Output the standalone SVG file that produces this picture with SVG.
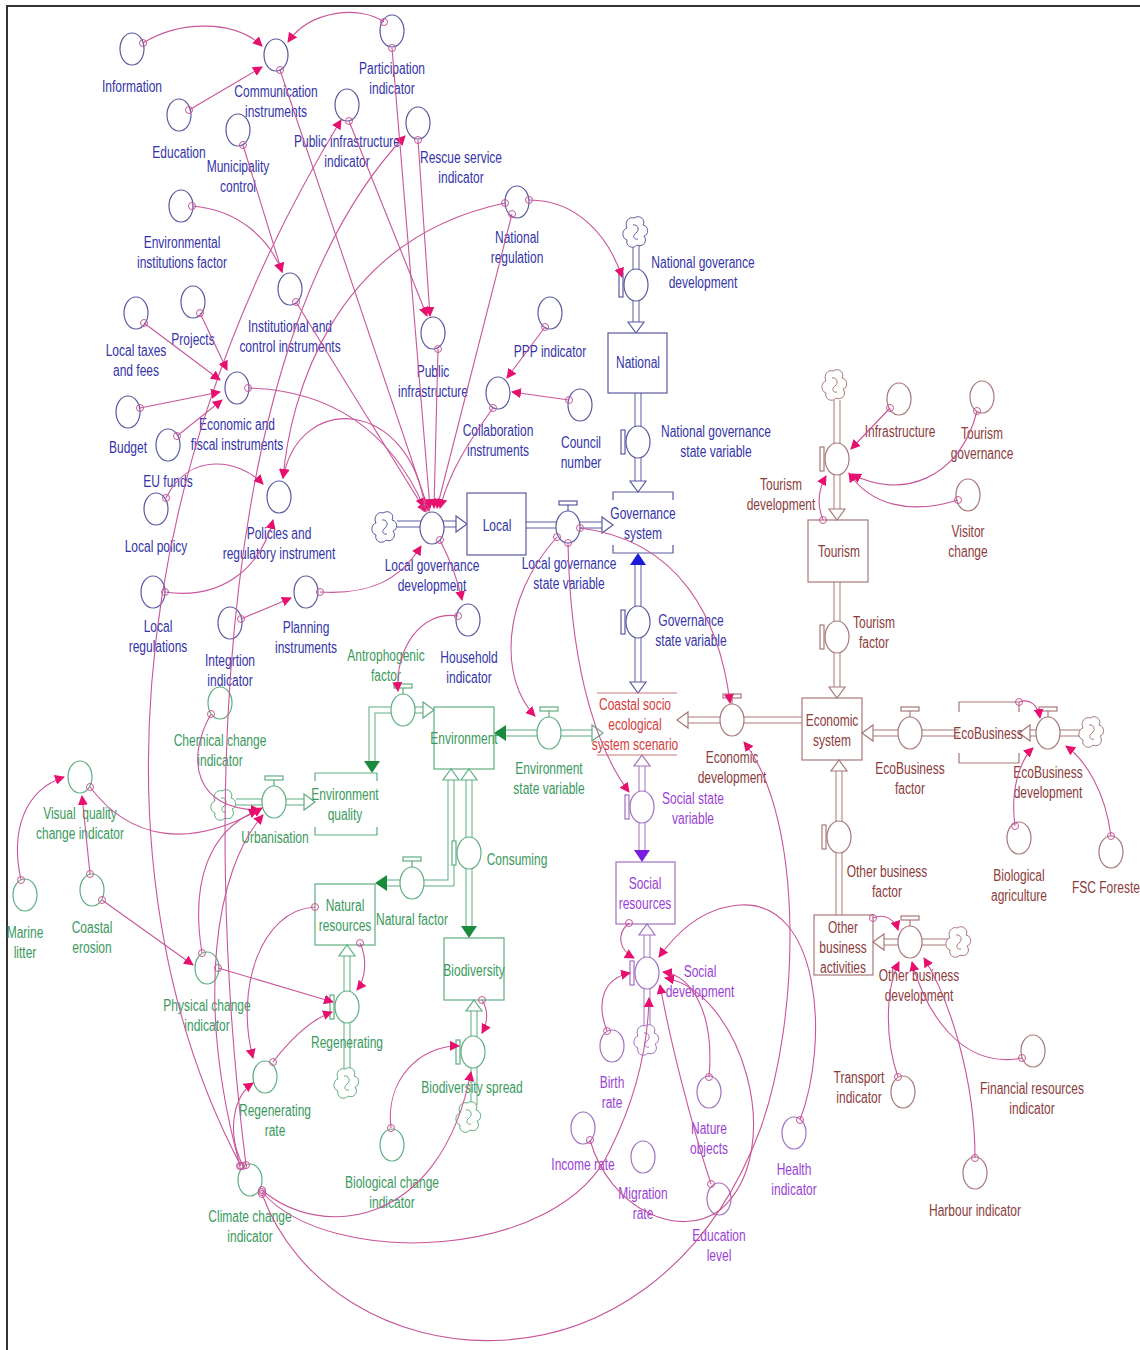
<svg xmlns="http://www.w3.org/2000/svg" width="1140" height="1350" viewBox="0 0 1140 1350">
<style>
.t{font-family:"Liberation Sans",Arial,sans-serif;font-size:16px;text-anchor:middle;dominant-baseline:central}
.tg{fill:#3434a8}.te{fill:#3a9a5c}.tc{fill:#8c3c3c}.ts{fill:#9b3fd4}.tr{fill:#d23c3c}
.ng{fill:#fff;stroke:#5a5aa0;stroke-width:1.2}
.ne{fill:#fff;stroke:#5fae80;stroke-width:1.2}
.nc{fill:#fff;stroke:#a87878;stroke-width:1.2}
.ns{fill:#fff;stroke:#a070c0;stroke-width:1.2}
.bg{fill:none;stroke:#5a5aa0;stroke-width:1.2}
.be{fill:none;stroke:#5fae80;stroke-width:1.2}
.bc{fill:none;stroke:#a87878;stroke-width:1.2}
.bs{fill:none;stroke:#a070c0;stroke-width:1.2}
.pg{fill:none;stroke:#5a5aa0;stroke-width:7}
.pe{fill:none;stroke:#5fae80;stroke-width:7}
.pc{fill:none;stroke:#a87878;stroke-width:7}
.ps{fill:none;stroke:#a070c0;stroke-width:7}
.pw{fill:none;stroke:#fff;stroke-width:5}
.c{fill:none;stroke:#c8569a;stroke-width:1.1;marker-start:url(#r);marker-end:url(#a)}
</style>
<defs>
<marker id="a" viewBox="0 0 10 10" refX="9" refY="5" markerWidth="10" markerHeight="10" markerUnits="userSpaceOnUse" orient="auto"><path d="M0,0 L10,5 L0,10 z" fill="#e8106e"/></marker>
<marker id="r" viewBox="-5 -5 10 10" refX="0" refY="0" markerWidth="10" markerHeight="10" markerUnits="userSpaceOnUse"><circle r="3.5" fill="none" stroke="#c8569a" stroke-width="1"/></marker>
<g id="cloud"><path d="M-2,-14 C4,-18 10,-12 7,-7 C13,-6 13,3 8,4 C12,9 7,16 1,13 C-3,18 -11,14 -9,8 C-15,6 -14,-3 -9,-4 C-12,-10 -7,-16 -2,-14 Z" fill="#fff"/><path d="M-3,-7 C2,-8 4,-2 0,1 C-4,4 -2,8 2,7" fill="none"/></g>
</defs>
<rect width="1140" height="1350" fill="#fff"/>
<path d="M7,1350 V6 H1140" fill="none" stroke="#333" stroke-width="2"/>

<g id="flows">
<path class="pg" d="M636,246 V322"/><path class="pw" d="M636,246 V322"/><polygon points="628,322 644,322 636,333" class="ng"/>
<path class="pg" d="M638,393 V482"/><path class="pw" d="M638,393 V482"/><polygon points="630,481 646,481 638,492" class="ng"/>
<path class="pg" d="M397,524 H456"/><path class="pw" d="M397,524 H456"/><polygon points="456,516 456,532 467,524" class="ng"/>
<path class="pg" d="M526,525 H602"/><path class="pw" d="M526,525 H602"/><polygon points="602,517 602,533 613,525" class="ng"/>
<path class="pg" d="M638,565 V682"/><path class="pw" d="M638,565 V682"/><polygon points="630,565 646,565 638,553" fill="#1c1cd8"/><polygon points="630,682 646,682 638,693" class="ng"/>
<path class="ps" d="M642,766 V850"/><path class="pw" d="M642,766 V850"/><polygon points="634,766 650,766 642,755" class="ns"/><polygon points="634,850 650,850 642,862" fill="#7a1ce0"/>
<path class="ps" d="M647,935 V1028"/><path class="pw" d="M647,935 V1028"/><polygon points="639,935 655,935 647,924" class="ns"/>
<path class="pe" d="M423,710 H372 V761"/><path class="pw" d="M423,710 H372 V761"/><polygon points="423,702 423,718 434,710" class="ne"/><polygon points="364,761 380,761 372,773" fill="#1a8a3c"/>
<path class="pe" d="M236,802 H304"/><path class="pw" d="M236,802 H304"/><polygon points="304,794 304,810 315,802" class="ne"/>
<path class="pe" d="M506,733 H592"/><path class="pw" d="M506,733 H592"/><polygon points="506,725 506,741 494,733" fill="#1a8a3c"/><polygon points="592,725 592,741 603,733" class="ne"/>
<path class="pe" d="M469,780 V926"/><path class="pw" d="M469,780 V926"/><polygon points="461,780 477,780 469,769" class="ne"/><polygon points="461,926 477,926 469,938" fill="#1a8a3c"/>
<path class="pe" d="M451,780 V883 H387"/><path class="pw" d="M451,780 V883 H387"/><polygon points="443,780 459,780 451,769" class="ne"/><polygon points="387,875 387,891 375,883" fill="#1a8a3c"/>
<path class="pe" d="M347,956 V1070"/><path class="pw" d="M347,956 V1070"/><polygon points="339,956 355,956 347,945" class="ne"/>
<path class="pe" d="M474,1011 V1105"/><path class="pw" d="M474,1011 V1105"/><polygon points="466,1011 482,1011 474,1000" class="ne"/>
<path class="pc" d="M802,720 H688"/><path class="pw" d="M802,720 H688"/><polygon points="688,712 688,728 677,720" class="nc"/>
<path class="pc" d="M837,400 V509"/><path class="pw" d="M837,400 V509"/><polygon points="829,509 845,509 837,520" class="nc"/>
<path class="pc" d="M837,582 V687"/><path class="pw" d="M837,582 V687"/><polygon points="829,687 845,687 837,698" class="nc"/>
<path class="pc" d="M959,733 H873"/><path class="pw" d="M959,733 H873"/><polygon points="873,725 873,741 862,733" class="nc"/>
<path class="pc" d="M1080,733 H1030"/><path class="pw" d="M1080,733 H1030"/><polygon points="1030,725 1030,741 1019,733" class="nc"/>
<path class="pc" d="M839,915 V771"/><path class="pw" d="M839,915 V771"/><polygon points="831,771 847,771 839,760" class="nc"/>
<path class="pc" d="M948,942 H884"/><path class="pw" d="M948,942 H884"/><polygon points="884,934 884,950 873,942" class="nc"/>
</g>

<g id="clouds">
<use href="#cloud" x="636" y="232" stroke="#5a5aa0"/>
<use href="#cloud" x="385" y="527" stroke="#5a5aa0"/>
<use href="#cloud" x="224" y="805" stroke="#5fae80"/>
<use href="#cloud" x="347" y="1083" stroke="#5fae80"/>
<use href="#cloud" x="469" y="1117" stroke="#5fae80"/>
<use href="#cloud" x="835" y="385" stroke="#a87878"/>
<use href="#cloud" x="1092" y="732" stroke="#a87878"/>
<use href="#cloud" x="959" y="942" stroke="#a87878"/>
<use href="#cloud" x="647" y="1040" stroke="#a070c0"/>
</g>

<!-- Governance nodes -->
<g id="information"><ellipse class="ng" cx="132" cy="49" rx="12" ry="16"/><text class="t tg" transform="translate(132,86) scale(.75,1)">Information</text></g>
<g id="communication"><ellipse class="ng" cx="276" cy="55" rx="12" ry="16"/><text class="t tg" transform="translate(276,91) scale(.75,1)"><tspan x="0" y="0">Communication</tspan><tspan x="0" y="20">instruments</tspan></text></g>
<g id="participation"><ellipse class="ng" cx="392" cy="31" rx="12" ry="16"/><text class="t tg" transform="translate(392,68) scale(.75,1)"><tspan x="0" y="0">Participation</tspan><tspan x="0" y="20">indicator</tspan></text></g>
<g id="education"><ellipse class="ng" cx="179" cy="115" rx="12" ry="16"/><text class="t tg" transform="translate(179,152) scale(.75,1)">Education</text></g>
<g id="municipality"><ellipse class="ng" cx="238" cy="130" rx="12" ry="16"/><text class="t tg" transform="translate(238,166) scale(.75,1)"><tspan x="0" y="0">Municipality</tspan><tspan x="0" y="20">control</tspan></text></g>
<g id="pubinf-indicator"><ellipse class="ng" cx="347" cy="105" rx="12" ry="16"/><text class="t tg" transform="translate(347,141) scale(.75,1)"><tspan x="0" y="0">Public infrastructure</tspan><tspan x="0" y="20">indicator</tspan></text></g>
<g id="rescue"><ellipse class="ng" cx="418" cy="123" rx="12" ry="16"/><text class="t tg" transform="translate(461,157) scale(.75,1)"><tspan x="0" y="0">Rescue service</tspan><tspan x="0" y="20">indicator</tspan></text></g>
<g id="envinst"><ellipse class="ng" cx="181" cy="206" rx="12" ry="16"/><text class="t tg" transform="translate(182,242) scale(.75,1)"><tspan x="0" y="0">Environmental</tspan><tspan x="0" y="20">institutions factor</tspan></text></g>
<g id="natreg"><ellipse class="ng" cx="517" cy="202" rx="12" ry="16"/><text class="t tg" transform="translate(517,237) scale(.75,1)"><tspan x="0" y="0">National</tspan><tspan x="0" y="20">regulation</tspan></text></g>
<g id="institutional"><ellipse class="ng" cx="290" cy="289" rx="12" ry="16"/><text class="t tg" transform="translate(290,326) scale(.75,1)"><tspan x="0" y="0">Institutional and</tspan><tspan x="0" y="20">control instruments</tspan></text></g>
<g id="projects"><ellipse class="ng" cx="193" cy="302" rx="12" ry="16"/><text class="t tg" transform="translate(193,339) scale(.75,1)">Projects</text></g>
<g id="localtaxes"><ellipse class="ng" cx="136" cy="313" rx="12" ry="16"/><text class="t tg" transform="translate(136,350) scale(.75,1)"><tspan x="0" y="0">Local taxes</tspan><tspan x="0" y="20">and fees</tspan></text></g>
<g id="pubinf"><ellipse class="ng" cx="433" cy="333" rx="12" ry="16"/><text class="t tg" transform="translate(433,371) scale(.75,1)"><tspan x="0" y="0">Public</tspan><tspan x="0" y="20">infrastructure</tspan></text></g>
<g id="ppp"><ellipse class="ng" cx="550" cy="313" rx="12" ry="16"/><text class="t tg" transform="translate(550,351) scale(.75,1)">PPP indicator</text></g>
<g id="econfisc"><ellipse class="ng" cx="237" cy="388" rx="12" ry="16"/><text class="t tg" transform="translate(237,424) scale(.75,1)"><tspan x="0" y="0">Economic and</tspan><tspan x="0" y="20">fiscal instruments</tspan></text></g>
<g id="collab"><ellipse class="ng" cx="498" cy="393" rx="12" ry="16"/><text class="t tg" transform="translate(498,430) scale(.75,1)"><tspan x="0" y="0">Collaboration</tspan><tspan x="0" y="20">instruments</tspan></text></g>
<g id="council"><ellipse class="ng" cx="580" cy="405" rx="12" ry="16"/><text class="t tg" transform="translate(581,442) scale(.75,1)"><tspan x="0" y="0">Council</tspan><tspan x="0" y="20">number</tspan></text></g>
<g id="budget"><ellipse class="ng" cx="128" cy="412" rx="12" ry="16"/><text class="t tg" transform="translate(128,447) scale(.75,1)">Budget</text></g>
<g id="eufunds"><ellipse class="ng" cx="168" cy="445" rx="12" ry="16"/><text class="t tg" transform="translate(168,481) scale(.75,1)">EU funds</text></g>
<g id="policies"><ellipse class="ng" cx="279" cy="497" rx="12" ry="16"/><text class="t tg" transform="translate(279,533) scale(.75,1)"><tspan x="0" y="0">Policies and</tspan><tspan x="0" y="20">regulatory instrument</tspan></text></g>
<g id="localpolicy"><ellipse class="ng" cx="156" cy="509" rx="12" ry="16"/><text class="t tg" transform="translate(156,546) scale(.75,1)">Local policy</text></g>
<g id="localreg"><ellipse class="ng" cx="153" cy="592" rx="12" ry="16"/><text class="t tg" transform="translate(158,626) scale(.75,1)"><tspan x="0" y="0">Local</tspan><tspan x="0" y="20">regulations</tspan></text></g>
<g id="planning"><ellipse class="ng" cx="306" cy="592" rx="12" ry="16"/><text class="t tg" transform="translate(306,627) scale(.75,1)"><tspan x="0" y="0">Planning</tspan><tspan x="0" y="20">instruments</tspan></text></g>
<g id="integration"><ellipse class="ng" cx="230" cy="623" rx="12" ry="16"/><text class="t tg" transform="translate(230,660) scale(.75,1)"><tspan x="0" y="0">Integrtion</tspan><tspan x="0" y="20">indicator</tspan></text></g>
<g id="household"><ellipse class="ng" cx="468" cy="620" rx="12" ry="16"/><text class="t tg" transform="translate(469,657) scale(.75,1)"><tspan x="0" y="0">Household</tspan><tspan x="0" y="20">indicator</tspan></text></g>
<g id="ngd"><ellipse class="ng" cx="636" cy="285" rx="12" ry="16"/><rect class="ng" x="619" y="273" width="4" height="24"/><text class="t tg" transform="translate(703,262) scale(.75,1)"><tspan x="0" y="0">National goverance</tspan><tspan x="0" y="20">development</tspan></text></g>
<g id="national"><rect class="ng" x="608" y="333" width="59" height="60"/><text class="t tg" transform="translate(638,362) scale(.75,1)">National</text></g>
<g id="ngsv"><ellipse class="ng" cx="638" cy="442" rx="12" ry="16"/><rect class="ng" x="621" y="430" width="4" height="24"/><text class="t tg" transform="translate(716,431) scale(.75,1)"><tspan x="0" y="0">National governance</tspan><tspan x="0" y="20">state variable</tspan></text></g>
<g id="govsystem"><path class="bg" d="M613,500 V492 H673 V500 M613,545 V553 H673 V545"/><text class="t tg" transform="translate(643,513) scale(.75,1)"><tspan x="0" y="0">Governance</tspan><tspan x="0" y="20">system</tspan></text></g>
<g id="local"><rect class="ng" x="467" y="493" width="59" height="62"/><text class="t tg" transform="translate(497,525) scale(.75,1)">Local</text></g>
<g id="lgd"><ellipse class="ng" cx="432" cy="528" rx="12" ry="16"/><text class="t tg" transform="translate(432,565) scale(.75,1)"><tspan x="0" y="0">Local governance</tspan><tspan x="0" y="20">development</tspan></text></g>
<g id="lgsv"><ellipse class="ng" cx="568" cy="527" rx="12" ry="16"/><path class="bg" d="M568,511 V505"/><rect class="ng" x="559" y="501" width="18" height="4"/><text class="t tg" transform="translate(569,563) scale(.75,1)"><tspan x="0" y="0">Local governance</tspan><tspan x="0" y="20">state variable</tspan></text></g>
<g id="gsv"><ellipse class="ng" cx="638" cy="622" rx="12" ry="16"/><rect class="ng" x="621" y="610" width="4" height="24"/><text class="t tg" transform="translate(691,620) scale(.75,1)"><tspan x="0" y="0">Governance</tspan><tspan x="0" y="20">state variable</tspan></text></g>

<!-- Coastal -->
<g id="coastal-scenario"><path d="M597,693 H677 M597,755 H677" stroke="#c87878" stroke-width="1.2" fill="none"/><text class="t tr" transform="translate(635,704) scale(.75,1)"><tspan x="0" y="0">Coastal socio</tspan><tspan x="0" y="20">ecological</tspan><tspan x="0" y="40">system scenario</tspan></text></g>

<!-- Environment nodes -->
<g id="antro"><ellipse class="ne" cx="403" cy="710" rx="12" ry="16"/><path class="be" d="M403,694 V688"/><rect class="ne" x="394" y="684" width="18" height="4"/><text class="t te" transform="translate(386,655) scale(.75,1)"><tspan x="0" y="0">Antrophogenic</tspan><tspan x="0" y="20">factor</tspan></text></g>
<g id="chemical"><ellipse class="ne" cx="220" cy="703" rx="12" ry="16"/><text class="t te" transform="translate(220,740) scale(.75,1)"><tspan x="0" y="0">Chemical change</tspan><tspan x="0" y="20">indicator</tspan></text></g>
<g id="visual"><ellipse class="ne" cx="80" cy="777" rx="12" ry="16"/><text class="t te" transform="translate(80,813) scale(.75,1)" xml:space="preserve"><tspan x="0" y="0">Visual  quality</tspan><tspan x="0" y="20">change indicator</tspan></text></g>
<g id="urbanisation"><ellipse class="ne" cx="274" cy="802" rx="12" ry="16"/><path class="be" d="M274,786 V780"/><rect class="ne" x="265" y="776" width="18" height="4"/><text class="t te" transform="translate(275,837) scale(.75,1)">Urbanisation</text></g>
<g id="envquality"><path class="be" d="M315,781 V773 H377 V781 M315,827 V835 H377 V827"/><text class="t te" transform="translate(345,794) scale(.75,1)"><tspan x="0" y="0">Environment</tspan><tspan x="0" y="20">quality</tspan></text></g>
<g id="environment"><rect class="be" x="434" y="707" width="60" height="62"/><text class="t te" transform="translate(464,738) scale(.75,1)">Environment</text></g>
<g id="esv"><ellipse class="ne" cx="549" cy="733" rx="12" ry="16"/><path class="be" d="M549,717 V711"/><rect class="ne" x="540" y="707" width="18" height="4"/><text class="t te" transform="translate(549,768) scale(.75,1)"><tspan x="0" y="0">Environment</tspan><tspan x="0" y="20">state variable</tspan></text></g>
<g id="consuming"><ellipse class="ne" cx="469" cy="853" rx="12" ry="16"/><rect class="ne" x="452" y="841" width="4" height="24"/><text class="t te" transform="translate(517,859) scale(.75,1)">Consuming</text></g>
<g id="natfactor"><ellipse class="ne" cx="412" cy="883" rx="12" ry="16"/><path class="be" d="M412,867 V861"/><rect class="ne" x="403" y="857" width="18" height="4"/><text class="t te" transform="translate(412,919) scale(.75,1)">Natural factor</text></g>
<g id="natres"><rect class="be" x="315" y="884" width="60" height="61"/><text class="t te" transform="translate(345,905) scale(.75,1)"><tspan x="0" y="0">Natural</tspan><tspan x="0" y="20">resources</tspan></text></g>
<g id="biodiversity"><rect class="be" x="444" y="938" width="60" height="62"/><text class="t te" transform="translate(474,970) scale(.75,1)">Biodiversity</text></g>
<g id="marine"><ellipse class="ne" cx="25" cy="895" rx="12" ry="16"/><text class="t te" transform="translate(25,932) scale(.75,1)"><tspan x="0" y="0">Marine</tspan><tspan x="0" y="20">litter</tspan></text></g>
<g id="coastalerosion"><ellipse class="ne" cx="92" cy="890" rx="12" ry="16"/><text class="t te" transform="translate(92,927) scale(.75,1)"><tspan x="0" y="0">Coastal</tspan><tspan x="0" y="20">erosion</tspan></text></g>
<g id="physical"><ellipse class="ne" cx="207" cy="968" rx="12" ry="16"/><text class="t te" transform="translate(207,1005) scale(.75,1)"><tspan x="0" y="0">Physical change</tspan><tspan x="0" y="20">indicator</tspan></text></g>
<g id="regenerating"><ellipse class="ne" cx="347" cy="1007" rx="12" ry="16"/><rect class="ne" x="330" y="995" width="4" height="24"/><text class="t te" transform="translate(347,1042) scale(.75,1)">Regenerating</text></g>
<g id="regrate"><ellipse class="ne" cx="265" cy="1077" rx="12" ry="16"/><text class="t te" transform="translate(275,1110) scale(.75,1)"><tspan x="0" y="0">Regenerating</tspan><tspan x="0" y="20">rate</tspan></text></g>
<g id="biospread"><ellipse class="ne" cx="473" cy="1052" rx="12" ry="16"/><rect class="ne" x="456" y="1040" width="4" height="24"/><text class="t te" transform="translate(472,1087) scale(.75,1)">Biodiversity spread</text></g>
<g id="biochange"><ellipse class="ne" cx="392" cy="1145" rx="12" ry="16"/><text class="t te" transform="translate(392,1182) scale(.75,1)"><tspan x="0" y="0">Biological change</tspan><tspan x="0" y="20">indicator</tspan></text></g>
<g id="climate"><ellipse class="ne" cx="250" cy="1180" rx="12" ry="16"/><text class="t te" transform="translate(250,1216) scale(.75,1)"><tspan x="0" y="0">Climate change</tspan><tspan x="0" y="20">indicator</tspan></text></g>

<!-- Economic nodes -->
<g id="econdev"><ellipse class="nc" cx="732" cy="720" rx="12" ry="16"/><path class="bc" d="M732,704 V698"/><rect class="nc" x="723" y="694" width="18" height="4"/><text class="t tc" transform="translate(732,757) scale(.75,1)"><tspan x="0" y="0">Economic</tspan><tspan x="0" y="20">development</tspan></text></g>
<g id="econsys"><rect class="bc" x="802" y="698" width="60" height="62"/><text class="t tc" transform="translate(832,720) scale(.75,1)"><tspan x="0" y="0">Economic</tspan><tspan x="0" y="20">system</tspan></text></g>
<g id="tourdev"><ellipse class="nc" cx="837" cy="459" rx="12" ry="16"/><rect class="nc" x="820" y="447" width="4" height="24"/><text class="t tc" transform="translate(781,484) scale(.75,1)"><tspan x="0" y="0">Tourism</tspan><tspan x="0" y="20">development</tspan></text></g>
<g id="infrastructure"><ellipse class="nc" cx="899" cy="399" rx="12" ry="16"/><text class="t tc" transform="translate(900,431) scale(.75,1)">Infrastructure</text></g>
<g id="tourgov"><ellipse class="nc" cx="982" cy="397" rx="12" ry="16"/><text class="t tc" transform="translate(982,433) scale(.75,1)"><tspan x="0" y="0">Tourism</tspan><tspan x="0" y="20">governance</tspan></text></g>
<g id="visitor"><ellipse class="nc" cx="968" cy="495" rx="12" ry="16"/><text class="t tc" transform="translate(968,531) scale(.75,1)"><tspan x="0" y="0">Visitor</tspan><tspan x="0" y="20">change</tspan></text></g>
<g id="tourism"><rect class="bc" x="808" y="520" width="60" height="62"/><text class="t tc" transform="translate(839,551) scale(.75,1)">Tourism</text></g>
<g id="tourfactor"><ellipse class="nc" cx="837" cy="637" rx="12" ry="16"/><rect class="nc" x="820" y="625" width="4" height="24"/><text class="t tc" transform="translate(874,622) scale(.75,1)"><tspan x="0" y="0">Tourism</tspan><tspan x="0" y="20">factor</tspan></text></g>
<g id="ecobfactor"><ellipse class="nc" cx="910" cy="733" rx="12" ry="16"/><path class="bc" d="M910,717 V711"/><rect class="nc" x="901" y="707" width="18" height="4"/><text class="t tc" transform="translate(910,768) scale(.75,1)"><tspan x="0" y="0">EcoBusiness</tspan><tspan x="0" y="20">factor</tspan></text></g>
<g id="ecobusiness"><path class="bc" d="M959,712 V702 H1019 V712 M959,753 V763 H1019 V753"/><text class="t tc" transform="translate(988,733) scale(.75,1)">EcoBusiness</text></g>
<g id="ecobdev"><ellipse class="nc" cx="1048" cy="733" rx="12" ry="16"/><path class="bc" d="M1048,717 V711"/><rect class="nc" x="1039" y="707" width="18" height="4"/><text class="t tc" transform="translate(1048,772) scale(.75,1)"><tspan x="0" y="0">EcoBusiness</tspan><tspan x="0" y="20">development</tspan></text></g>
<g id="bioagri"><ellipse class="nc" cx="1019" cy="838" rx="12" ry="16"/><text class="t tc" transform="translate(1019,875) scale(.75,1)"><tspan x="0" y="0">Biological</tspan><tspan x="0" y="20">agriculture</tspan></text></g>
<g id="fsc"><ellipse class="nc" cx="1111" cy="852" rx="12" ry="16"/><text class="t tc" transform="translate(1072,887) scale(.75,1)" style="text-anchor:start">FSC Foreste</text></g>
<g id="otherfactor"><ellipse class="nc" cx="839" cy="837" rx="12" ry="16"/><rect class="nc" x="822" y="825" width="4" height="24"/><text class="t tc" transform="translate(887,871) scale(.75,1)"><tspan x="0" y="0">Other business</tspan><tspan x="0" y="20">factor</tspan></text></g>
<g id="otherbus"><rect class="bc" x="814" y="915" width="59" height="60"/><text class="t tc" transform="translate(843,927) scale(.75,1)"><tspan x="0" y="0">Other</tspan><tspan x="0" y="20">business</tspan><tspan x="0" y="40">activities</tspan></text></g>
<g id="otherdev"><ellipse class="nc" cx="910" cy="942" rx="12" ry="16"/><path class="bc" d="M910,926 V920"/><rect class="nc" x="901" y="916" width="18" height="4"/><text class="t tc" transform="translate(919,975) scale(.75,1)"><tspan x="0" y="0">Other business</tspan><tspan x="0" y="20">development</tspan></text></g>
<g id="transport"><ellipse class="nc" cx="903" cy="1092" rx="12" ry="16"/><text class="t tc" transform="translate(859,1077) scale(.75,1)"><tspan x="0" y="0">Transport</tspan><tspan x="0" y="20">indicator</tspan></text></g>
<g id="financial"><ellipse class="nc" cx="1033" cy="1051" rx="12" ry="16"/><text class="t tc" transform="translate(1032,1088) scale(.75,1)"><tspan x="0" y="0">Financial resources</tspan><tspan x="0" y="20">indicator</tspan></text></g>
<g id="harbour"><ellipse class="nc" cx="975" cy="1173" rx="12" ry="16"/><text class="t tc" transform="translate(975,1210) scale(.75,1)">Harbour indicator</text></g>

<!-- Social nodes -->
<g id="ssv"><ellipse class="ns" cx="642" cy="807" rx="12" ry="16"/><rect class="ns" x="625" y="795" width="4" height="24"/><text class="t ts" transform="translate(693,798) scale(.75,1)"><tspan x="0" y="0">Social state</tspan><tspan x="0" y="20">variable</tspan></text></g>
<g id="socres"><rect class="bs" x="616" y="862" width="59" height="62"/><text class="t ts" transform="translate(645,883) scale(.75,1)"><tspan x="0" y="0">Social</tspan><tspan x="0" y="20">resources</tspan></text></g>
<g id="socdev"><ellipse class="ns" cx="647" cy="973" rx="12" ry="16"/><rect class="ns" x="630" y="961" width="4" height="24"/><text class="t ts" transform="translate(700,971) scale(.75,1)"><tspan x="0" y="0">Social</tspan><tspan x="0" y="20">development</tspan></text></g>
<g id="birth"><ellipse class="ns" cx="612" cy="1046" rx="12" ry="16"/><text class="t ts" transform="translate(612,1082) scale(.75,1)"><tspan x="0" y="0">Birth</tspan><tspan x="0" y="20">rate</tspan></text></g>
<g id="income"><ellipse class="ns" cx="583" cy="1128" rx="12" ry="16"/><text class="t ts" transform="translate(583,1164) scale(.75,1)">Income rate</text></g>
<g id="nature"><ellipse class="ns" cx="709" cy="1092" rx="12" ry="16"/><text class="t ts" transform="translate(709,1128) scale(.75,1)"><tspan x="0" y="0">Nature</tspan><tspan x="0" y="20">objects</tspan></text></g>
<g id="migration"><ellipse class="ns" cx="643" cy="1157" rx="12" ry="16"/><text class="t ts" transform="translate(643,1193) scale(.75,1)"><tspan x="0" y="0">Migration</tspan><tspan x="0" y="20">rate</tspan></text></g>
<g id="edulevel"><ellipse class="ns" cx="719" cy="1199" rx="12" ry="16"/><text class="t ts" transform="translate(719,1235) scale(.75,1)"><tspan x="0" y="0">Education</tspan><tspan x="0" y="20">level</tspan></text></g>
<g id="health"><ellipse class="ns" cx="794" cy="1133" rx="12" ry="16"/><text class="t ts" transform="translate(794,1169) scale(.75,1)"><tspan x="0" y="0">Health</tspan><tspan x="0" y="20">indicator</tspan></text></g>

<g id="connectors">
<path class="c" d="M143,43 C180,20 235,20 262,46"/>
<path class="c" d="M189,110 L262,67"/>
<path class="c" d="M384,22 C360,5 310,10 288,42"/>
<path class="c" d="M280,70 L429,511"/>
<path class="c" d="M243,145 L282,272"/>
<path class="c" d="M192,206 C240,210 270,240 282,272"/>
<path class="c" d="M296,302 L426,512"/>
<path class="c" d="M241,1166 C100,900 110,500 341,120"/>
<path class="c" d="M349,121 L427,316"/>
<path class="c" d="M418,140 L430,316"/>
<path class="c" d="M246,1165 C200,800 220,330 405,136"/>
<path class="c" d="M505,203 C330,240 290,400 283,478"/>
<path class="c" d="M580,528 C680,540 720,620 730,703"/>
<path class="c" d="M557,537 C500,600 500,680 535,716"/>
<path class="c" d="M568,543 C570,650 590,740 629,792"/>
<path class="c" d="M262,1194 C330,1380 650,1420 760,1130 C800,1020 805,820 744,742"/>
<path class="c" d="M262,1192 C330,1270 560,1260 610,1150 C640,1090 648,1040 649,998"/>
<path class="c" d="M262,1190 C320,1240 440,1230 471,1072"/>
<path class="c" d="M800,1120 C830,1040 820,900 740,905 C700,908 675,935 659,957"/>
<path class="c" d="M629,923 C615,935 620,950 634,958"/>
<path class="c" d="M607,1031 C595,1000 605,978 630,973"/>
<path class="c" d="M709,1077 C715,1010 690,975 663,972"/>
<path class="c" d="M711,1184 C690,1120 670,1040 660,985"/>
<path class="c" d="M590,1140 C610,1210 680,1240 720,1210 C790,1150 740,990 665,978"/>
<path class="c" d="M890,408 L851,449"/>
<path class="c" d="M977,411 C960,480 900,500 852,474"/>
<path class="c" d="M958,500 C910,515 870,505 849,473"/>
<path class="c" d="M823,520 C817,505 818,490 826,476"/>
<path class="c" d="M1019,702 C1030,698 1038,705 1040,718"/>
<path class="c" d="M1015,826 C1010,790 1020,760 1033,748"/>
<path class="c" d="M1111,836 C1105,790 1085,760 1066,746"/>
<path class="c" d="M873,918 C885,913 895,920 898,930"/>
<path class="c" d="M898,1077 C885,1040 885,990 899,962"/>
<path class="c" d="M1022,1058 C960,1070 925,1010 912,962"/>
<path class="c" d="M975,1158 C975,1080 950,1000 924,958"/>
<path class="c" d="M458,616 C420,610 395,650 398,691"/>
<path class="c" d="M21,880 C10,830 25,790 64,777"/>
<path class="c" d="M90,874 L82,796"/>
<path class="c" d="M102,900 L193,965"/>
<path class="c" d="M90,787 C130,840 190,850 262,808"/>
<path class="c" d="M211,714 C185,760 195,810 260,810"/>
<path class="c" d="M202,953 C190,880 210,830 258,810"/>
<path class="c" d="M240,1166 C195,1000 215,870 263,815"/>
<path class="c" d="M218,968 L333,1002"/>
<path class="c" d="M315,907 C260,910 235,990 253,1058"/>
<path class="c" d="M360,943 C368,960 365,980 357,990"/>
<path class="c" d="M273,1062 C290,1040 310,1020 332,1012"/>
<path class="c" d="M243,1166 C225,1130 235,1095 253,1083"/>
<path class="c" d="M391,1128 C385,1080 420,1045 459,1046"/>
<path class="c" d="M482,1000 C488,1010 488,1022 482,1033"/>
<path class="c" d="M200,313 L227,370"/>
<path class="c" d="M144,323 L220,380"/>
<path class="c" d="M140,408 L220,392"/>
<path class="c" d="M177,436 L222,400"/>
<path class="c" d="M248,388 C330,390 390,430 424,507"/>
<path class="c" d="M425,508 C410,400 300,390 283,478"/>
<path class="c" d="M166,498 C190,450 240,460 263,484"/>
<path class="c" d="M165,592 C220,600 260,570 273,520"/>
<path class="c" d="M241,619 L291,598"/>
<path class="c" d="M320,592 C370,595 400,580 421,546"/>
<path class="c" d="M440,540 C450,560 458,580 462,600"/>
<path class="c" d="M438,349 L434,508"/>
<path class="c" d="M493,408 C470,440 450,470 440,508"/>
<path class="c" d="M545,327 L507,378"/>
<path class="c" d="M569,400 L512,392"/>
<path class="c" d="M512,214 L437,508"/>
<path class="c" d="M529,200 C580,200 610,240 622,277"/>
<path class="c" d="M392,48 L430,508"/>
</g>
</svg>
